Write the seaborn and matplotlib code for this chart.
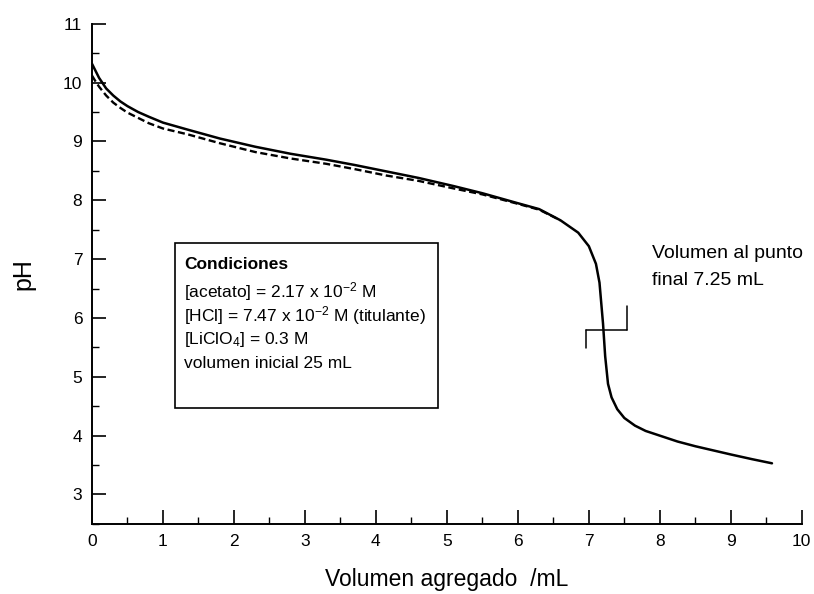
import matplotlib
matplotlib.use("Agg")
import matplotlib.pyplot as plt
import seaborn as sns
import pandas as pd
from matplotlib.patches import Rectangle
from matplotlib.ticker import MultipleLocator

# --- data -----------------------------------------------------------------
vol_solid = [0, 0.05, 0.1, 0.2, 0.3, 0.4, 0.5, 0.65, 0.8, 1.0, 1.35, 1.8, 2.3,
             2.8, 3.3, 3.7, 4.15, 4.6, 5.1, 5.5, 6.0, 6.3, 6.6, 6.85, 7.0, 7.1,
             7.15, 7.2, 7.23, 7.27, 7.32, 7.4, 7.5, 7.65, 7.8, 8.0, 8.25, 8.5,
             8.75, 9.0, 9.3, 9.58]
ph_solid = [10.32, 10.2, 10.08, 9.9, 9.78, 9.68, 9.6, 9.5, 9.42, 9.32, 9.2,
            9.05, 8.91, 8.79, 8.69, 8.6, 8.49, 8.38, 8.24, 8.12, 7.95, 7.85, 7.66,
            7.45, 7.22, 6.92, 6.6, 5.9, 5.35, 4.88, 4.65, 4.45, 4.3, 4.17, 4.08,
            4.0, 3.9, 3.82, 3.75, 3.68, 3.6, 3.53]

vol_dashed = [0, 0.05, 0.1, 0.2, 0.3, 0.4, 0.5, 0.65, 0.8, 1.0, 1.35, 1.8, 2.3,
              2.8, 3.3, 3.7, 4.15, 4.6, 5.1, 5.5, 6.0, 6.3, 6.6]
ph_dashed = [10.12, 10.02, 9.93, 9.78, 9.66, 9.57, 9.49, 9.4, 9.31, 9.22, 9.12,
             8.97, 8.82, 8.71, 8.62, 8.53, 8.42, 8.33, 8.2, 8.1, 7.94, 7.84, 7.66]

x_ticks = [0, 1, 2, 3, 4, 5, 6, 7, 8, 9, 10]
y_ticks = [3, 4, 5, 6, 7, 8, 9, 10, 11]

# end-point marker (volume 7.25 mL)
mark_h_x = [6.96, 7.54]
mark_h_y = [5.80, 5.80]
mark_l_x = [6.96, 6.96]
mark_l_y = [5.80, 5.49]
mark_r_x = [7.54, 7.54]
mark_r_y = [5.80, 6.20]

cond_lines = ["Condiciones",
              "[acetato] = 2.17 x 10$^{-2}$ M",
              "[HCl] = 7.47 x 10$^{-2}$ M (titulante)",
              "[LiClO$_4$] = 0.3 M",
              "volumen inicial 25 mL"]

# --- plot -----------------------------------------------------------------
sns.set_theme(style="white")
plt.rcParams["font.family"] = ["Liberation Sans", "DejaVu Sans"]
plt.rcParams["mathtext.fontset"] = "custom"
plt.rcParams["mathtext.rm"] = "Liberation Sans"
plt.rcParams["mathtext.it"] = "Liberation Sans:italic"

fig = plt.figure(figsize=(8.14, 5.94), dpi=100)
ax = fig.add_axes([0.113, 0.118, 0.872, 0.842])

df_s = pd.DataFrame({"vol": vol_solid, "ph": ph_solid})
df_d = pd.DataFrame({"vol": vol_dashed, "ph": ph_dashed})
sns.lineplot(data=df_d, x="vol", y="ph", ax=ax, color="black", lw=1.7,
             linestyle=(0, (3, 1.5)), sort=False, estimator=None)
sns.lineplot(data=df_s, x="vol", y="ph", ax=ax, color="black", lw=1.8,
             sort=False, estimator=None)

for xs, ys in [(mark_h_x, mark_h_y), (mark_l_x, mark_l_y), (mark_r_x, mark_r_y)]:
    ax.plot(xs, ys, color="black", lw=1.1)

ax.set_xlim(0, 10)
ax.set_ylim(2.5, 11)
ax.set_xticks(x_ticks)
ax.set_yticks(y_ticks)
ax.xaxis.set_minor_locator(MultipleLocator(0.5))
ax.yaxis.set_minor_locator(MultipleLocator(0.5))
ax.tick_params(axis="both", which="major", direction="in", length=10,
               width=1.2, labelsize=12.5, colors="black", pad=7)
ax.tick_params(axis="both", which="minor", direction="in", length=5,
               width=1.0, colors="black")
ax.tick_params(axis="both", which="both", bottom=True, left=True,
               top=False, right=False)
for s in ["top", "right"]:
    ax.spines[s].set_visible(False)
for s in ["left", "bottom"]:
    ax.spines[s].set_color("black")
    ax.spines[s].set_linewidth(1.4)

ax.set_xlabel("Volumen agregado  /mL", fontsize=16.5, color="black", labelpad=14)
ax.set_ylabel("pH", fontsize=18, color="black", labelpad=20)

# conditions box
ax.add_patch(Rectangle((0.117, 0.232), 0.370, 0.330, transform=ax.transAxes,
                       fill=False, edgecolor="black", lw=1.2))
line_y = [0.518, 0.464, 0.416, 0.368, 0.320]
for i, (txt, yy) in enumerate(zip(cond_lines, line_y)):
    ax.text(0.130, yy, txt, transform=ax.transAxes, fontsize=12.5,
            fontweight="bold" if i == 0 else "normal", va="center",
            ha="left", color="black")

ax.text(7.89, 7.10, "Volumen al punto", fontsize=14, va="center", ha="left",
        color="black")
ax.text(7.89, 6.64, "final 7.25 mL", fontsize=14, va="center", ha="left",
        color="black")

fig.savefig("out.png", dpi=100, facecolor="white")
